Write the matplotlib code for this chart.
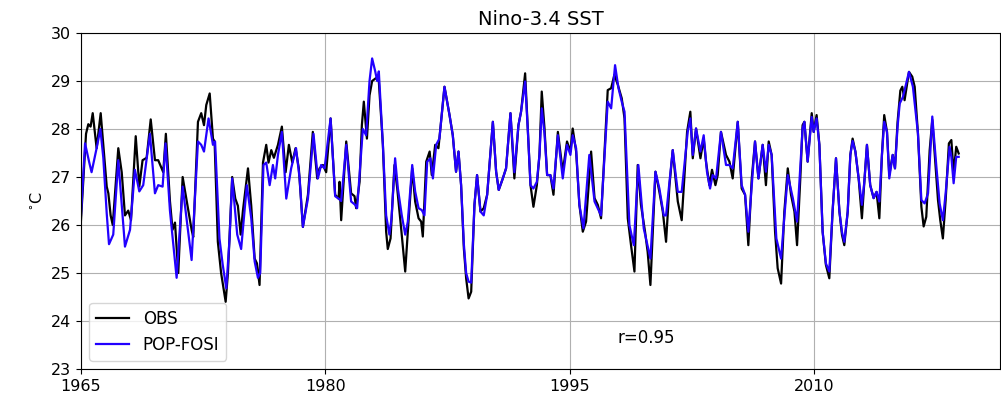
import numpy as np
import matplotlib
matplotlib.use('Agg')
import matplotlib.pyplot as plt

# Nino-3.4 SST (degC), observed vs. POP-FOSI hindcast, sampled at turning points
obs_t = [1965.00, 1965.31, 1965.45, 1965.59, 1965.72, 1965.96, 1966.21, 1966.58, 1966.68, 1966.82,
         1966.95, 1967.29, 1967.50, 1967.70, 1967.90, 1968.07, 1968.36, 1968.58, 1968.78, 1969.03,
         1969.28, 1969.54, 1969.74, 1970.05, 1970.21, 1970.46, 1970.62, 1970.77, 1970.97, 1971.24,
         1971.79, 1971.89, 1972.18, 1972.38, 1972.55, 1972.69, 1972.90, 1973.10, 1973.20, 1973.40,
         1973.60, 1973.88, 1974.02, 1974.28, 1974.47, 1974.63, 1974.80, 1974.94, 1975.25, 1975.45,
         1975.66, 1975.80, 1975.96, 1976.17, 1976.37, 1976.51, 1976.68, 1976.84, 1977.09, 1977.33,
         1977.56, 1977.76, 1977.97, 1978.17, 1978.37, 1978.62, 1978.93, 1979.23, 1979.50, 1979.64,
         1979.85, 1980.05, 1980.32, 1980.60, 1980.81, 1980.87, 1980.97, 1981.28, 1981.58, 1981.79,
         1981.89, 1982.10, 1982.24, 1982.36, 1982.55, 1982.71, 1982.87, 1983.06, 1983.26, 1983.53,
         1983.73, 1983.83, 1984.00, 1984.24, 1984.41, 1984.65, 1984.90, 1985.06, 1985.33, 1985.51,
         1985.72, 1985.88, 1985.98, 1986.19, 1986.40, 1986.53, 1986.74, 1986.94, 1987.31, 1987.62,
         1987.82, 1988.02, 1988.17, 1988.33, 1988.50, 1988.64, 1988.79, 1988.95, 1989.15, 1989.31,
         1989.52, 1989.72, 1989.93, 1990.28, 1990.48, 1990.64, 1990.89, 1991.09, 1991.36, 1991.60,
         1991.85, 1992.01, 1992.26, 1992.42, 1992.59, 1992.77, 1992.98, 1993.14, 1993.28, 1993.45,
         1993.61, 1993.81, 1994.00, 1994.27, 1994.57, 1994.83, 1995.04, 1995.18, 1995.39, 1995.59,
         1995.80, 1996.00, 1996.31, 1996.52, 1996.72, 1996.92, 1997.13, 1997.33, 1997.54, 1997.74,
         1997.95, 1998.19, 1998.36, 1998.56, 1998.76, 1998.97, 1999.17, 1999.37, 1999.62, 1999.78,
         1999.95, 2000.26, 2000.50, 2000.71, 2000.91, 2001.12, 2001.32, 2001.63, 2001.87, 2002.03,
         2002.20, 2002.40, 2002.55, 2002.75, 2003.02, 2003.22, 2003.36, 2003.57, 2003.73, 2003.94,
         2004.08, 2004.28, 2004.59, 2004.80, 2005.00, 2005.31, 2005.55, 2005.76, 2005.96, 2006.17,
         2006.37, 2006.58, 2006.84, 2007.04, 2007.21, 2007.39, 2007.60, 2007.76, 2007.97, 2008.17,
         2008.38, 2008.58, 2008.79, 2008.95, 2009.15, 2009.29, 2009.40, 2009.60, 2009.85, 2009.97,
         2010.15, 2010.32, 2010.52, 2010.72, 2010.93, 2011.13, 2011.34, 2011.55, 2011.71, 2011.85,
         2012.06, 2012.22, 2012.36, 2012.53, 2012.73, 2012.93, 2013.08, 2013.24, 2013.44, 2013.65,
         2013.83, 2014.00, 2014.16, 2014.30, 2014.47, 2014.61, 2014.82, 2014.96, 2015.12, 2015.29,
         2015.41, 2015.55, 2015.82, 2016.02, 2016.17, 2016.37, 2016.58, 2016.72, 2016.88, 2017.09,
         2017.25, 2017.45, 2017.60, 2017.74, 2017.90, 2018.07, 2018.27, 2018.42, 2018.56, 2018.72,
         2018.87]
obs_v = [26.10, 27.90, 28.10, 28.05, 28.33, 27.60, 28.33, 26.80, 26.66, 26.20,
         26.00, 27.60, 27.10, 26.20, 26.30, 26.10, 27.85, 26.80, 27.35, 27.40,
         28.20, 27.35, 27.35, 27.10, 27.90, 26.50, 25.90, 26.05, 25.00, 27.00,
         25.90, 25.75, 28.15, 28.33, 28.08, 28.50, 28.74, 27.80, 27.74, 25.65,
         25.00, 24.40, 25.00, 27.00, 26.55, 26.40, 25.80, 26.30, 27.18, 26.40,
         25.30, 25.20, 24.75, 27.30, 27.67, 27.30, 27.56, 27.40, 27.67, 28.05,
         27.10, 27.67, 27.30, 27.60, 27.18, 25.96, 26.63, 27.94, 26.97, 27.18,
         27.25, 27.10, 28.22, 26.63, 26.55, 26.90, 26.10, 27.74, 26.66, 26.60,
         26.35, 26.90, 28.08, 28.57, 27.80, 28.70, 29.00, 29.05, 29.10, 27.67,
         25.86, 25.50, 25.72, 27.25, 26.76, 25.93, 25.03, 25.86, 27.18, 26.49,
         26.14, 26.07, 25.76, 27.32, 27.53, 27.04, 27.67, 27.60, 28.88, 28.29,
         27.87, 27.11, 27.53, 26.83, 25.51, 24.89, 24.47, 24.61, 26.42, 27.04,
         26.28, 26.35, 26.63, 28.15, 27.11, 26.73, 26.97, 27.18, 28.33, 26.97,
         28.08, 28.36, 29.16, 28.01, 26.83, 26.38, 26.83, 27.46, 28.78, 28.01,
         27.04, 27.04, 26.63, 27.94, 27.11, 27.74, 27.53, 28.01, 27.53, 26.42,
         25.86, 26.07, 27.53, 26.56, 26.42, 26.14, 27.53, 28.81, 28.85, 29.13,
         28.92, 28.64, 28.22, 26.14, 25.58, 25.03, 27.25, 26.42, 25.86, 25.44,
         24.75, 27.11, 26.69, 26.28, 25.65, 26.83, 27.56, 26.49, 26.10, 26.97,
         27.94, 28.36, 27.39, 28.01, 27.39, 27.80, 27.32, 26.83, 27.15, 26.83,
         27.04, 27.94, 27.46, 27.32, 26.97, 28.15, 26.76, 26.63, 25.58, 26.97,
         27.74, 26.97, 27.67, 26.83, 27.74, 27.46, 25.86, 25.10, 24.78, 26.28,
         27.18, 26.63, 26.28, 25.58, 26.97, 28.08, 28.15, 27.32, 28.33, 27.94,
         28.29, 27.67, 25.86, 25.17, 24.89, 26.28, 27.39, 26.28, 25.79, 25.58,
         26.28, 27.46, 27.80, 27.53, 26.97, 26.14, 26.90, 27.67, 26.83, 26.56,
         26.69, 26.14, 27.46, 28.29, 27.94, 27.04, 27.46, 27.18, 28.15, 28.80,
         28.88, 28.60, 29.19, 29.09, 28.88, 27.91, 26.38, 25.97, 26.17, 27.56,
         28.19, 27.22, 26.52, 26.10, 25.72, 26.52, 27.70, 27.77, 27.08, 27.63,
         27.49]

pop_t = [1965.00, 1965.25, 1965.51, 1965.65, 1965.96, 1966.19, 1966.37, 1966.58, 1966.72, 1966.98,
         1967.29, 1967.70, 1968.01, 1968.31, 1968.58, 1968.82, 1969.23, 1969.54, 1969.74, 1970.01,
         1970.19, 1970.46, 1970.87, 1971.24, 1971.79, 1972.18, 1972.38, 1972.55, 1972.83, 1973.10,
         1973.23, 1973.50, 1973.70, 1973.92, 1974.12, 1974.28, 1974.59, 1974.83, 1975.18, 1975.45,
         1975.66, 1975.86, 1976.00, 1976.20, 1976.37, 1976.58, 1976.78, 1976.92, 1977.09, 1977.33,
         1977.60, 1977.90, 1978.20, 1978.42, 1978.62, 1978.93, 1979.27, 1979.54, 1979.74, 1979.95,
         1980.32, 1980.60, 1980.81, 1980.97, 1981.28, 1981.58, 1981.83, 1981.95, 1982.30, 1982.50,
         1982.71, 1982.87, 1983.06, 1983.18, 1983.28, 1983.53, 1983.73, 1983.93, 1984.06, 1984.28,
         1984.45, 1984.69, 1984.90, 1985.06, 1985.33, 1985.51, 1985.72, 1985.92, 1986.08, 1986.25,
         1986.45, 1986.60, 1986.80, 1987.00, 1987.31, 1987.62, 1987.82, 1988.02, 1988.17, 1988.33,
         1988.50, 1988.64, 1988.79, 1988.95, 1989.15, 1989.31, 1989.52, 1989.72, 1989.93, 1990.28,
         1990.48, 1990.64, 1990.89, 1991.09, 1991.36, 1991.60, 1991.85, 1992.01, 1992.26, 1992.42,
         1992.59, 1992.77, 1992.98, 1993.14, 1993.28, 1993.45, 1993.61, 1993.81, 1994.00, 1994.27,
         1994.57, 1994.83, 1995.04, 1995.18, 1995.39, 1995.59, 1995.84, 1996.20, 1996.52, 1996.92,
         1997.33, 1997.54, 1997.78, 1997.99, 1998.19, 1998.36, 1998.66, 1998.93, 1999.21, 1999.54,
         1999.95, 2000.26, 2000.50, 2000.77, 2000.91, 2001.32, 2001.63, 2001.87, 2002.24, 2002.40,
         2002.55, 2002.75, 2003.02, 2003.22, 2003.42, 2003.61, 2003.77, 2003.98, 2004.28, 2004.59,
         2004.80, 2005.00, 2005.31, 2005.55, 2005.76, 2005.96, 2006.37, 2006.58, 2006.84, 2007.04,
         2007.21, 2007.39, 2007.68, 2007.97, 2008.13, 2008.38, 2008.69, 2008.95, 2009.29, 2009.40,
         2009.60, 2009.85, 2009.97, 2010.15, 2010.32, 2010.52, 2010.72, 2010.93, 2011.13, 2011.34,
         2011.55, 2011.71, 2011.85, 2012.06, 2012.22, 2012.36, 2012.53, 2012.73, 2012.93, 2013.08,
         2013.24, 2013.44, 2013.65, 2013.83, 2014.00, 2014.16, 2014.30, 2014.47, 2014.61, 2014.82,
         2014.96, 2015.12, 2015.25, 2015.45, 2015.82, 2016.06, 2016.37, 2016.58, 2016.78, 2016.99,
         2017.25, 2017.50, 2017.70, 2017.90, 2018.07, 2018.31, 2018.42, 2018.56, 2018.72, 2018.87]
pop_v = [26.20, 27.70, 27.30, 27.10, 27.60, 28.00, 27.40, 26.24, 25.60, 25.80,
         27.35, 25.55, 25.90, 27.15, 26.70, 26.83, 27.90, 26.66, 26.83, 26.80,
         27.70, 26.30, 24.90, 26.80, 25.27, 27.74, 27.67, 27.53, 28.22, 27.67,
         27.74, 25.72, 25.17, 24.68, 25.72, 26.97, 25.80, 25.50, 26.83, 26.14,
         25.24, 24.90, 25.00, 27.25, 27.30, 26.83, 27.25, 26.97, 27.46, 27.94,
         26.55, 27.18, 27.60, 26.97, 25.96, 26.55, 27.90, 26.97, 27.25, 27.18,
         28.22, 26.60, 26.55, 26.50, 27.67, 26.49, 26.42, 26.35, 28.00, 27.87,
         29.00, 29.47, 29.20, 29.00, 29.20, 27.67, 26.20, 25.80, 26.14, 27.39,
         26.76, 26.20, 25.80, 26.07, 27.25, 26.70, 26.35, 26.31, 26.20, 27.32,
         27.39, 26.97, 27.67, 27.80, 28.88, 28.29, 27.87, 27.11, 27.53, 26.83,
         25.60, 25.00, 24.82, 24.80, 26.42, 27.04, 26.28, 26.20, 26.63, 28.15,
         27.11, 26.73, 26.97, 27.18, 28.33, 27.10, 28.08, 28.36, 28.99, 28.01,
         26.83, 26.76, 26.90, 27.46, 28.43, 27.90, 27.04, 27.04, 26.76, 27.87,
         26.97, 27.67, 27.46, 27.87, 27.60, 26.42, 25.93, 27.46, 26.49, 26.20,
         28.57, 28.43, 29.33, 28.85, 28.57, 28.36, 26.00, 25.58, 27.25, 25.93,
         25.30, 27.11, 26.76, 26.20, 26.20, 27.56, 26.69, 26.69, 27.94, 28.22,
         27.46, 28.01, 27.53, 27.87, 27.11, 26.76, 27.04, 26.97, 27.94, 27.25,
         27.25, 27.18, 28.15, 26.83, 26.63, 25.86, 27.74, 26.97, 27.67, 27.11,
         27.67, 27.46, 25.72, 25.30, 26.00, 27.04, 26.56, 26.07, 28.01, 28.15,
         27.32, 28.25, 27.94, 28.22, 27.67, 25.86, 25.20, 25.03, 26.28, 27.39,
         26.28, 25.85, 25.65, 26.28, 27.46, 27.75, 27.53, 26.97, 26.42, 26.90,
         27.67, 26.83, 26.56, 26.69, 26.49, 27.46, 28.15, 27.94, 26.97, 27.46,
         27.18, 28.05, 28.53, 28.67, 29.19, 28.88, 27.91, 26.52, 26.45, 26.66,
         28.26, 27.22, 26.45, 26.10, 26.66, 27.63, 27.42, 26.87, 27.42, 27.42]

labels = ['OBS', 'POP-FOSI']
corr = 0.95

fig = plt.figure(figsize=(10.01, 4.0), dpi=100)
ax = fig.add_axes([0.0809, 0.0775, 0.918, 0.84])

ax.plot(obs_t, obs_v, color='black', lw=1.6, label=labels[0])
ax.plot(pop_t, pop_v, color='#2200ff', lw=1.6, label=labels[1])

ax.set_xlim(1965, 2021.4)
ax.set_ylim(23, 30)
ax.set_xticks([1965, 1980, 1995, 2010])
ax.set_yticks(np.arange(23, 31, 1))
ax.tick_params(labelsize=11.5)
ax.grid(True)
ax.set_title('Nino-3.4 SST', fontsize=14)
ax.set_ylabel(r'$^{\circ}$C', fontsize=11.5)
ax.text(1997.9, 23.65, 'r=%.2f' % corr, fontsize=12, va='center')
ax.legend(loc='lower left', fontsize=12)

fig.savefig('out.png', dpi=100)
